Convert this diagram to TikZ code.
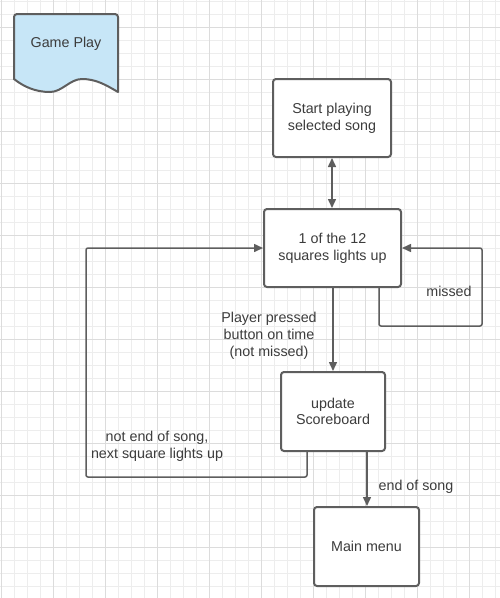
\documentclass[tikz,border=0pt]{standalone}
\usepackage{fontspec}
\setmainfont{Liberation Sans}
\usetikzlibrary{arrows.meta}
\definecolor{gridminor}{HTML}{EDEDED}
\definecolor{gridmajor}{HTML}{DCDCDC}
\definecolor{linegray}{HTML}{5E5E5E}
\definecolor{textgray}{HTML}{3C3C3C}
\definecolor{docblue}{HTML}{C7E6F7}
\tikzset{
  procbox/.style={draw=linegray, line width=2pt, rounded corners=3pt, fill=white,
    align=center, text=textgray, inner sep=0pt,
    font=\fontsize{14.3}{16.7}\selectfont},
  conn/.style={draw=linegray, line width=1.5pt, rounded corners=2pt,
    -{Triangle[length=9pt,width=8pt]}},
  lbl/.style={text=textgray, align=center, inner sep=0pt,
    font=\fontsize{14.3}{17.2}\selectfont},
}
\begin{document}
\begin{tikzpicture}[x=1pt,y=-1pt]
\useasboundingbox (0,0) rectangle (500,598);
\fill[white] (0,0) rectangle (500,598);
% grid
\foreach \k in {0,...,38} {
  \draw[gridminor, line width=0.8pt] ({1.3+13*\k},0) -- ({1.3+13*\k},598);
}
\foreach \k in {0,...,46} {
  \draw[gridminor, line width=0.8pt] (0,{1.3+13*\k}) -- (500,{1.3+13*\k});
}
\foreach \k in {0,...,9} {
  \draw[gridmajor, line width=0.9pt] ({1.3+52*\k},0) -- ({1.3+52*\k},598);
}
\foreach \k in {0,...,11} {
  \draw[gridmajor, line width=0.9pt] (0,{27.3+52*\k}) -- (500,{27.3+52*\k});
}
% document shape
\draw[draw=linegray, line width=2pt, fill=docblue, line join=round]
  (14,79) -- (14,17) [rounded corners=3pt] -- (14,14) -- (118,14) [sharp corners] -- (118,92)
  .. controls (106,85) and (96,79) .. (82,79)
  .. controls (70,79) and (62,92) .. (50,92)
  .. controls (36,92) and (24,87) .. (14,79) -- cycle;
\node[lbl, font=\fontsize{14.3}{16.7}\selectfont] (gp) at (66,44) {Game Play};
% boxes
\node[procbox, minimum width=118pt, minimum height=78pt] (start) at (332,118) {Start playing\\selected song};
\node[procbox, minimum width=137pt, minimum height=78pt] (sq) at (332.5,248) {1 of the 12\\squares lights up};
\node[procbox, minimum width=104pt, minimum height=79pt] (upd) at (333,411.5) {update\\Scoreboard};
\node[procbox, minimum width=105pt, minimum height=79pt] (menu) at (366.5,546.5) {Main menu};
% connectors
\draw[conn, {Triangle[length=9pt,width=8pt]}-{Triangle[length=9pt,width=8pt]}] (start.south -| 332,0) -- (sq.north -| 332,0);
\draw[conn] (sq.south -| 333,0) -- (upd.north -| 333,0);
\draw[conn] (upd.south -| 367,0) -- (menu.north -| 367,0);
\coordinate (m1) at (379,326);
\coordinate (m2) at (482,326);
\coordinate (m3) at (482,248);
\draw[conn] (sq.south -| m1) -- (m1) -- (m2) -- (m3) -- (sq.east);
\coordinate (l1) at (307,477);
\coordinate (l2) at (86,477);
\coordinate (l3) at (86,248);
\draw[conn] (upd.south -| l1) -- (l1) -- (l2) -- (l3) -- (sq.west);
% labels
\node[lbl] (missed) at (449,291) {missed};
\node[lbl] (pp) at (269,336) {Player pressed\\button on time\\(not missed)};
\node[lbl] (ne) at (157,446) {not end of song,\\next square lights up};
\node[lbl] (eos) at (416,487) {end of song};
\end{tikzpicture}
\end{document}
